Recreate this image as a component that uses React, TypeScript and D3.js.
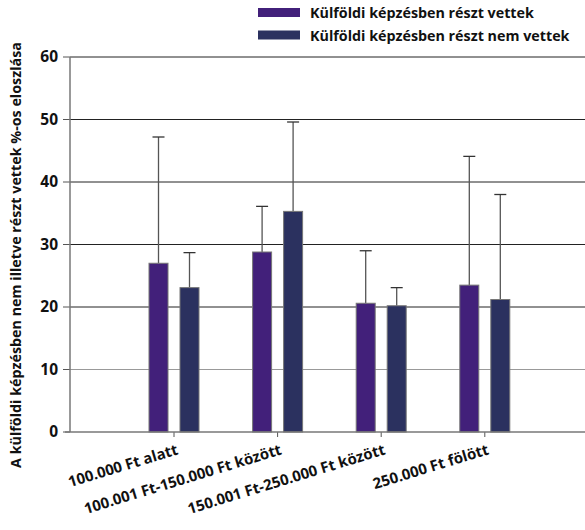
import React from "react";
import * as d3 from "d3";

const categories = ["100.000 Ft alatt", "100.001 Ft-150.000 Ft között", "150.001 Ft-250.000 Ft között", "250.000 Ft fölött"];
const seriesNames = ["Külföldi képzésben részt vettek", "Külföldi képzésben részt nem vettek"];
const vettek = [27.0, 28.8, 20.6, 23.5];
const vettekErr = [47.2, 36.1, 29.0, 44.1];
const nemVettek = [23.1, 35.3, 20.2, 21.2];
const nemVettekErr = [28.7, 49.6, 23.1, 38.0];
const yTicks = [0, 10, 20, 30, 40, 50, 60];
const colors = ["#42207a", "#2b315f"];
const yTitle = "A külföldi képzésben nem illetve részt vettek %-os eloszlása";

export default function App() {
  const W = 585, H = 530;
  const axisX = 70;
  const y = d3.scaleLinear().domain([0, 60]).range([432, 57]);
  const x = d3.scaleBand<string>().domain(categories).range([122.2, 536.6]);
  const series = [
    { vals: vettek, err: vettekErr, off: -15.5 },
    { vals: nemVettek, err: nemVettekErr, off: 15.5 },
  ];
  const bw = 19;
  const font = "'Open Sans', 'DejaVu Sans', sans-serif";
  return (
    <svg width={W} height={H} style={{ position: "absolute", left: 0, top: 0, background: "#fff" }} fontFamily={font}>
      {yTicks.map((t) => (
        <g key={t}>
          {t > 0 && (
            <line x1={axisX} x2={W} y1={y(t)} y2={y(t)} stroke={t === 10 ? "#999" : "#222"} strokeWidth={1} />
          )}
          <line x1={axisX - 7} x2={axisX} y1={y(t)} y2={y(t)} stroke="#555" />
          <text x={58} y={y(t)} dy="0.35em" textAnchor="end" fontSize={15.5} fontWeight="bold" fill="#111">
            {t}
          </text>
        </g>
      ))}
      <line x1={axisX} x2={axisX} y1={y(60)} y2={y(0)} stroke="#777" strokeWidth={1.5} />
      {categories.map((c, i) => {
        const cx = x(c)! + x.bandwidth() / 2;
        return (
          <g key={c}>
            {series.map((s, k) => {
              const bx = cx + s.off - bw / 2;
              const top = y(s.vals[i]);
              const et = y(s.err[i]);
              return (
                <g key={k}>
                  <line x1={cx + s.off} x2={cx + s.off} y1={top} y2={et} stroke="#555" strokeWidth={1.3} />
                  <line x1={cx + s.off - 6} x2={cx + s.off + 6} y1={et} y2={et} stroke="#333" strokeWidth={1.3} />
                  <rect x={bx} y={top} width={bw} height={y(0) - top} fill={colors[k]} stroke="#777" strokeWidth={1} />
                </g>
              );
            })}
            <line x1={cx} x2={cx} y1={432} y2={437} stroke="#555" />
            <text
              transform={`translate(${cx + 5},${454}) rotate(-17)`}
              textAnchor="end"
              fontSize={15}
              fontWeight="bold"
              fill="#111"
            >
              {c}
            </text>
          </g>
        );
      })}
      <line x1={65} x2={W} y1={432} y2={432} stroke="#777" strokeWidth={1.5} />
      <text
        transform={`translate(21,${255}) rotate(-90)`}
        textAnchor="middle"
        fontSize={14.3}
        fontWeight="bold"
        fill="#111"
      >
        {yTitle}
      </text>
      {seriesNames.map((n, k) => (
        <g key={n}>
          <rect x={258} y={8 + k * 22.5} width={42} height={9} fill={colors[k]} />
          <text x={310} y={17 + k * 22.5} dy="0.1em" fontSize={14.3} fontWeight="bold" fill="#111">
            {n}
          </text>
        </g>
      ))}
    </svg>
  );
}
